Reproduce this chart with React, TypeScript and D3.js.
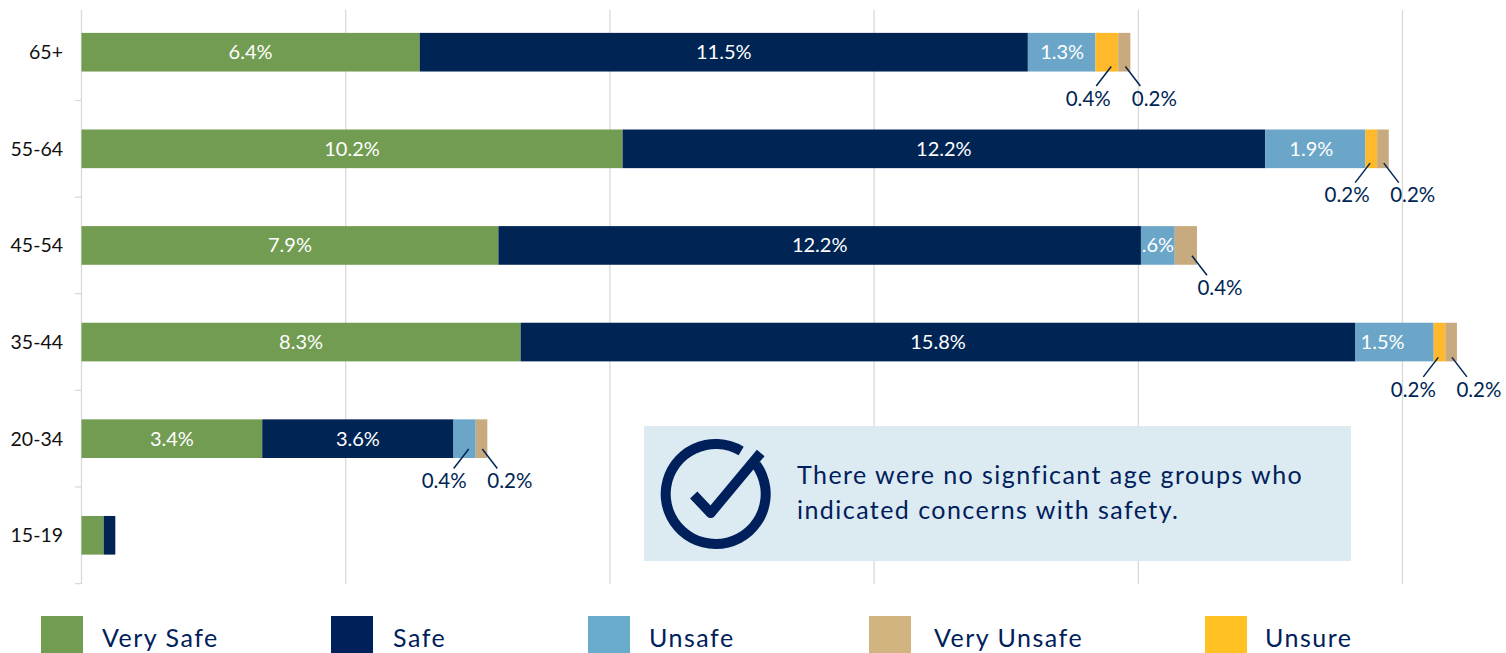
import React, { useEffect, useRef } from "react";
import * as d3 from "d3";

const ageGroups = ["65+", "55-64", "45-54", "35-44", "20-34", "15-19"];
const verySafe = [6.4, 10.24, 7.89, 8.31, 3.42, 0.42];
const safe = [11.51, 12.16, 12.16, 15.8, 3.62, 0.22];
const unsafe = [1.28, 1.9, 0.64, 1.48, 0.42, 0];
const unsure = [0.43, 0.22, 0, 0.22, 0, 0];
const veryUnsafe = [0.23, 0.22, 0.42, 0.22, 0.22, 0];

const verySafeLabels = ["6.4%", "10.2%", "7.9%", "8.3%", "3.4%", ""];
const safeLabels = ["11.5%", "12.2%", "12.2%", "15.8%", "3.6%", ""];
const unsafeLabels = ["1.3%", "1.9%", ".6%", "1.5%", "0.4%", ""];
const unsureLabels = ["0.4%", "0.2%", "", "0.2%", "", ""];
const veryUnsafeLabels = ["0.2%", "0.2%", "0.4%", "0.2%", "0.2%", ""];

const stackKeys = ["Very Safe", "Safe", "Unsafe", "Unsure", "Very Unsafe"];
const legendKeys = ["Very Safe", "Safe", "Unsafe", "Very Unsafe", "Unsure"];
const xTicks = [0, 5, 10, 15, 20, 25];
const noteLines = [
  "There were no signficant age groups who",
  "indicated concerns with safety.",
];

// layout only, by legend entry / by age group
const legendX = [41, 331, 588, 869, 1205];
const legendTextX = [102, 393, 649, 934, 1265];
const legendColors = ["#719c52", "#00205b", "#69abcb", "#d2b480", "#ffc222"];
const calloutDrop = [27, 27, 23, 28, 23, 0];
const calloutShift = [1, 1, 0, -1, -0.5, 0];
const unsafeShift = [0.5, -4, 0, -12, 0, 0];

const navy = "#002554";
const inkBlue = "#00205b";
const colors = d3
  .scaleOrdinal<string>()
  .domain(stackKeys)
  .range(["#719c52", navy, "#6ba6c8", "#ffb92a", "#c7aa7d"]);

const values: Record<string, number[]> = {
  "Very Safe": verySafe,
  Safe: safe,
  Unsafe: unsafe,
  Unsure: unsure,
  "Very Unsafe": veryUnsafe,
};
const labels: Record<string, string[]> = {
  "Very Safe": verySafeLabels,
  Safe: safeLabels,
  Unsafe: unsafeLabels,
  Unsure: unsureLabels,
  "Very Unsafe": veryUnsafeLabels,
};

const font = "Lato, sans-serif";

const App = () => {
  const ref = useRef<SVGGElement>(null);

  useEffect(() => {
    const x = d3.scaleLinear().domain([0, 25]).range([81.5, 1402.5]);
    const y = d3
      .scaleBand()
      .domain(ageGroups)
      .range([3.9, 583.6])
      .paddingInner(0.6)
      .paddingOuter(0.3);

    const rows = ageGroups.map((age, i) => {
      const row: any = { age };
      stackKeys.forEach(k => (row[k] = values[k][i]));
      return row;
    });
    const stacked = d3.stack<any>().keys(stackKeys)(rows);

    const root = d3.select(ref.current);
    root.selectAll("*").remove();

    // grid
    root
      .append("g")
      .selectAll("line")
      .data(xTicks)
      .join("line")
      .attr("x1", d => x(d))
      .attr("x2", d => x(d))
      .attr("y1", 10)
      .attr("y2", 584)
      .attr("stroke", "#d9d9d9")
      .attr("stroke-width", 1.3);

    // category tick marks sit on band edges
    const bandEdges = ageGroups.map(a => y(a)! + y.bandwidth() + y.step() * 0.3);
    root
      .append("g")
      .selectAll("line")
      .data(bandEdges)
      .join("line")
      .attr("x1", 75)
      .attr("x2", 81)
      .attr("y1", d => d)
      .attr("y2", d => d)
      .attr("stroke", "#d9d9d9")
      .attr("stroke-width", 1.3);

    root
      .append("g")
      .selectAll("text")
      .data(ageGroups)
      .join("text")
      .attr("x", 63)
      .attr("y", d => y(d)! + y.bandwidth() / 2)
      .attr("dy", "0.35em")
      .attr("text-anchor", "end")
      .attr("font-family", font)
      .attr("font-size", 19.5)
      .attr("fill", "#111")
      .text(d => d);

    // bars
    stacked.forEach(s => {
      root
        .append("g")
        .selectAll("rect")
        .data(s)
        .join("rect")
        .attr("x", d => x(d[0]))
        .attr("y", d => y(d.data.age)!)
        .attr("width", d => x(d[1]) - x(d[0]))
        .attr("height", y.bandwidth())
        .attr("fill", colors(s.key));
    });

    // labels inside the bars, callouts for the thin segments
    const callouts = root.append("g");
    const addCallout = (x1: number, x2: number, lx: number, top: number, drop: number, text: string) => {
      const base = top + y.bandwidth();
      callouts
        .append("line")
        .attr("x1", x1)
        .attr("x2", x2)
        .attr("y1", base + drop - 32)
        .attr("y2", base + drop - 12.5)
        .attr("stroke", navy)
        .attr("stroke-width", 1.5);
      callouts
        .append("text")
        .attr("x", lx)
        .attr("y", base + drop)
        .attr("dy", "0.35em")
        .attr("text-anchor", "middle")
        .attr("font-family", font)
        .attr("font-size", 20.5)
        .attr("fill", navy)
        .text(text);
    };

    stacked.forEach(s => {
      s.forEach((d, i) => {
        const text = labels[s.key][i];
        if (!text) return;
        const top = y(d.data.age)!;
        const start = x(d[0]);
        const end = x(d[1]);
        const small = s.key === "Unsure" || s.key === "Very Unsafe" || text === "0.4%";
        if (!small) {
          const shift = s.key === "Unsafe" ? unsafeShift[i] : 0;
          root
            .append("text")
            .attr("x", (start + end) / 2 + shift)
            .attr("y", top + y.bandwidth() / 2)
            .attr("dy", "0.35em")
            .attr("text-anchor", "middle")
            .attr("font-family", font)
            .attr("font-size", 20)
            .attr("fill", "#fff")
            .text(text);
        } else if (s.key === "Very Unsafe") {
          addCallout(end - 5, end + 10, end + 23 + calloutShift[i], top, calloutDrop[i], text);
        } else {
          addCallout(end - 7, end - 22, end - 31 + calloutShift[i], top, calloutDrop[i], text);
        }
      });
    });

    // legend
    const legend = root
      .append("g")
      .selectAll("g")
      .data(legendKeys)
      .join("g");
    legend
      .append("rect")
      .attr("x", (d, i) => legendX[i])
      .attr("y", 616)
      .attr("width", 42)
      .attr("height", 37)
      .attr("fill", (d, i) => legendColors[i]);
    legend
      .append("text")
      .attr("x", (d, i) => legendTextX[i])
      .attr("y", 638)
      .attr("dy", "0.35em")
      .attr("font-family", font)
      .attr("font-size", 25)
      .attr("letter-spacing", 1.5)
      .attr("fill", inkBlue)
      .text(d => d);

    // note box
    const note = root.append("g").attr("transform", "translate(644,426)");
    note.append("rect").attr("width", 707).attr("height", 135).attr("fill", "#dceaf2");
    note
      .selectAll("text")
      .data(noteLines)
      .join("text")
      .attr("x", 153)
      .attr("y", (d, i) => 49 + i * 35.5)
      .attr("dy", "0.35em")
      .attr("font-family", font)
      .attr("font-size", 25)
      .attr("letter-spacing", 1.45)
      .attr("fill", inkBlue)
      .text(d => d);

    // check icon
    const icon = note.append("g").attr("transform", "translate(71.7,68)");
    const ring = d3
      .arc()
      .innerRadius(45)
      .outerRadius(55)
      .startAngle(Math.PI * 0.3)
      .endAngle(Math.PI * 2 + Math.PI * 0.17);
    icon.append("path").attr("d", ring({} as any)).attr("fill", inkBlue);
    const tick = d3.line();
    icon
      .append("path")
      .attr("d", tick([[-22, 1], [-5, 19], [45, -41]]))
      .attr("fill", "none")
      .attr("stroke", inkBlue)
      .attr("stroke-width", 10)
      .attr("stroke-linejoin", "round");
  }, []);

  return (
    <svg
      width={1506}
      height={653}
      style={{ position: "absolute", left: 0, top: 0, background: "#fff" }}
    >
      <g ref={ref} />
    </svg>
  );
};

export default App;
